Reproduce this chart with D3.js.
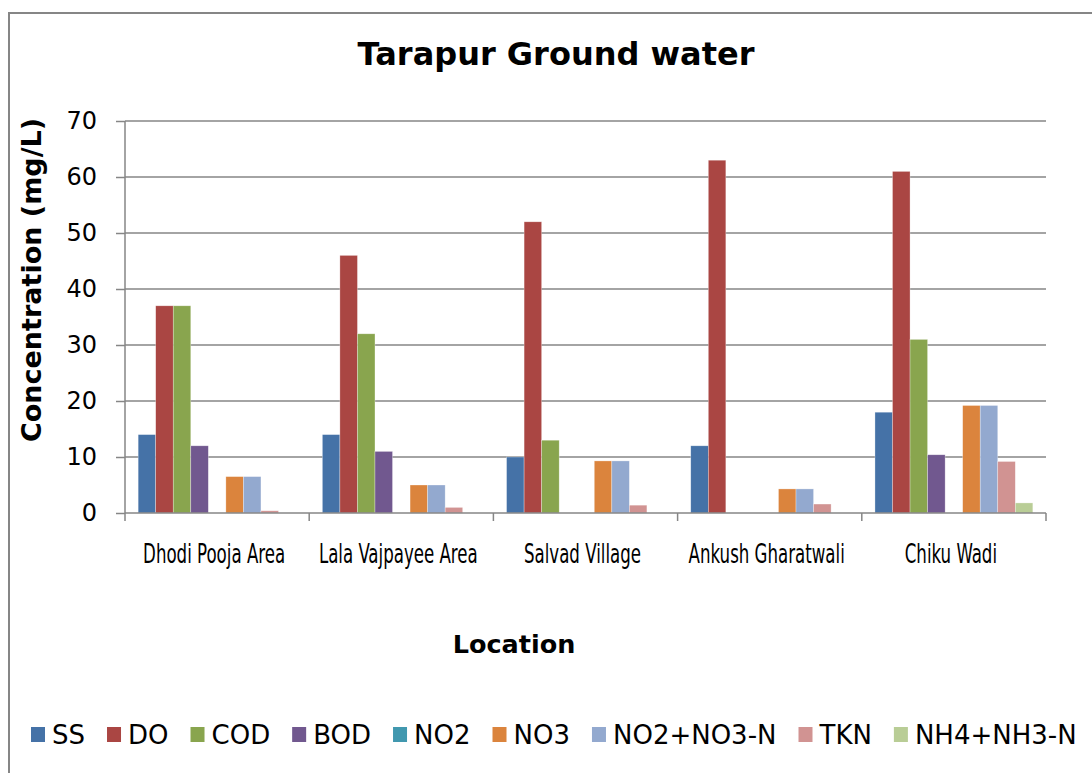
<!DOCTYPE html>
<html>
<head>
<meta charset="utf-8">
<script src="https://cdnjs.cloudflare.com/ajax/libs/d3/7.8.5/d3.min.js"></script>
<style>
  body { margin: 0; background: #fff; }
  .grid line { stroke: #868686; stroke-width: 1.5; }
  .axis path, .axis line { stroke: #868686; stroke-width: 1.5; }
  .yaxis text { font-family: "DejaVu Sans", Verdana, sans-serif; font-size: 24px; fill: #000; }
  .xaxis text { font-family: "Liberation Sans Narrow", "DejaVu Sans Condensed", sans-serif; font-size: 27px; fill: #000; }
</style>
</head>
<body>
<div id="chart"></div>
<script>
// categories and series
var locations = ["Dhodi Pooja Area", "Lala Vajpayee Area", "Salvad Village", "Ankush Gharatwali", "Chiku Wadi"];
var seriesNames = ["SS", "DO", "COD", "BOD", "NO2", "NO3", "NO2+NO3-N", "TKN", "NH4+NH3-N"];
var colors = ["#4572A7", "#AA4643", "#89A54E", "#71588F", "#4198AF", "#DB843D", "#93A9CF", "#D19392", "#B9CD96"];

var SS      = [14, 14, 10, 12, 18];
var DO      = [37, 46, 52, 63, 61];
var COD     = [37, 32, 13, 0, 31];
var BOD     = [12, 11, 0, 0, 10.4];
var NO2     = [0, 0, 0, 0, 0];
var NO3     = [6.5, 5, 9.3, 4.3, 19.2];
var NO2NO3N = [6.5, 5, 9.3, 4.3, 19.2];
var TKN     = [0.4, 1, 1.4, 1.6, 9.2];
var NH4NH3N = [0, 0, 0, 0, 1.8];

var yTicks = [0, 10, 20, 30, 40, 50, 60, 70];

var seriesValues = [SS, DO, COD, BOD, NO2, NO3, NO2NO3N, TKN, NH4NH3N];

var w = 1092;
var h = 773;
var plotLeft = 125, plotRight = 1046, plotTop = 121, plotBottom = 513;

var svg = d3.select("#chart")
  .append("svg")
  .attr("width", w)
  .attr("height", h);

// chart border
svg.append("rect")
  .attr("x", 9).attr("y", 13)
  .attr("width", 1100).attr("height", 800)
  .attr("fill", "none")
  .attr("stroke", "#868686")
  .attr("stroke-width", 2);

var x0 = d3.scaleBand()
  .domain(locations)
  .range([plotLeft, plotRight])
  .paddingInner(0)
  .paddingOuter(0);

var x1 = d3.scaleBand()
  .domain(seriesNames)
  .range([0, x0.bandwidth()])
  .paddingInner(0)
  .paddingOuter(0.75);

var yScale = d3.scaleLinear()
  .domain([0, 70])
  .range([plotBottom, plotTop]);

// gridlines
svg.append("g")
  .attr("class", "grid")
  .selectAll("line")
  .data(yTicks.slice(1))
  .enter().append("line")
  .attr("x1", plotLeft).attr("x2", plotRight)
  .attr("y1", function(d) { return yScale(d); })
  .attr("y2", function(d) { return yScale(d); });

// bars
var groups = svg.append("g")
  .selectAll("g")
  .data(locations)
  .enter().append("g")
  .attr("transform", function(d) { return "translate(" + x0(d) + ",0)"; });

groups.selectAll("rect")
  .data(function(loc, i) {
    return seriesNames.map(function(s, j) { return { s: s, v: seriesValues[j][i], c: colors[j] }; });
  })
  .enter().append("rect")
  .attr("x", function(d) { return x1(d.s); })
  .attr("width", x1.bandwidth())
  .attr("y", function(d) { return yScale(d.v); })
  .attr("height", function(d) { return plotBottom - yScale(d.v); })
  .attr("fill", function(d) { return d.c; })
  .attr("stroke", "#ffffff")
  .attr("stroke-opacity", 0.5)
  .attr("stroke-width", 0.6);

// y axis
var yAxis = d3.axisLeft(yScale)
  .tickValues(yTicks)
  .tickSize(9)
  .tickPadding(19);

svg.append("g")
  .attr("class", "axis yaxis")
  .attr("transform", "translate(" + plotLeft + ",0)")
  .call(yAxis)
  .call(function(g) { g.select(".domain").attr("d", "M0," + plotTop + "V" + plotBottom); });

// x axis: ticks at category boundaries
var xAxisG = svg.append("g")
  .attr("class", "axis xaxis");

xAxisG.append("line")
  .attr("x1", plotLeft).attr("x2", plotRight)
  .attr("y1", plotBottom).attr("y2", plotBottom);

xAxisG.selectAll(".tick")
  .data(locations.concat([null]))
  .enter().append("line")
  .attr("class", "tick")
  .attr("x1", function(d) { return d === null ? plotRight : x0(d); })
  .attr("x2", function(d) { return d === null ? plotRight : x0(d); })
  .attr("y1", plotBottom).attr("y2", plotBottom + 8);

xAxisG.selectAll("text")
  .data(locations)
  .enter().append("text")
  .attr("text-anchor", "middle")
  .attr("transform", function(d) { return "translate(" + (x0(d) + x0.bandwidth() / 2 - 3) + "," + (plotBottom + 50) + ") scale(0.685,1)"; })
  .text(function(d) { return d; });

// title
svg.append("text")
  .attr("x", 556).attr("y", 65)
  .attr("text-anchor", "middle")
  .style("font-family", "'DejaVu Sans', Verdana, sans-serif")
  .style("font-weight", "bold")
  .style("font-size", "32px")
  .text("Tarapur Ground water");

// axis titles
svg.append("text")
  .attr("x", 514).attr("y", 653)
  .attr("text-anchor", "middle")
  .style("font-family", "'DejaVu Sans', Verdana, sans-serif")
  .style("font-weight", "bold")
  .style("font-size", "25.5px")
  .text("Location");

svg.append("text")
  .attr("transform", "translate(41,280) rotate(-90)")
  .attr("text-anchor", "middle")
  .style("font-family", "'DejaVu Sans', Verdana, sans-serif")
  .style("font-weight", "bold")
  .style("font-size", "27px")
  .text("Concentration (mg/L)");

// legend
var legend = svg.append("g")
  .attr("transform", "translate(31,0)");

var lx = 0;
seriesNames.forEach(function(s, j) {
  var item = legend.append("g").attr("transform", "translate(" + lx + ",0)");
  item.append("rect")
    .attr("x", 0).attr("y", 727)
    .attr("width", 14).attr("height", 15)
    .attr("fill", colors[j]);
  var t = item.append("text")
    .attr("x", 21).attr("y", 744)
    .style("font-family", "'DejaVu Sans', Verdana, sans-serif")
    .style("font-size", "26px")
    .text(s);
  lx += 21 + t.node().getComputedTextLength() + 22;
});
</script>
</body>
</html>
